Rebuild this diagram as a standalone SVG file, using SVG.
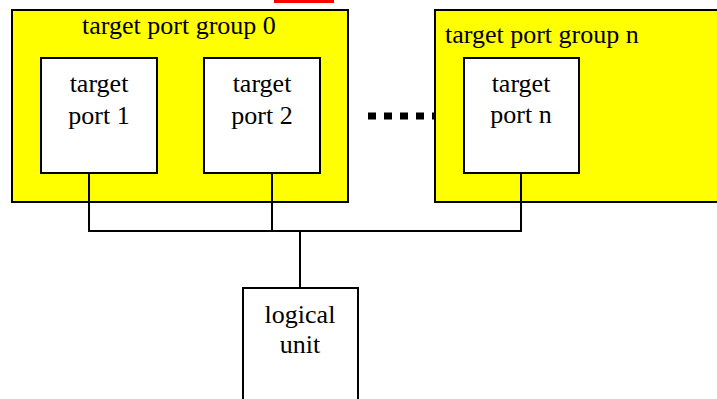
<svg xmlns="http://www.w3.org/2000/svg" width="717" height="399" viewBox="0 0 717 399">
<style>
.grp{fill:#ffff00;stroke:#000;stroke-width:2}
.box{fill:#fff;stroke:#000;stroke-width:2}
text{font-family:"Liberation Serif","Times New Roman",serif;font-size:26px;fill:#000}
.c{text-anchor:middle}
.wire{fill:none;stroke:#000;stroke-width:2}
</style>
<rect x="274" y="0" width="60" height="3" fill="#ff0000"/>
<g id="group0">
<rect class="grp" x="12" y="10" width="336" height="192"/>
<text class="c" x="179" y="34">target port group 0</text>
</g>
<g id="groupn">
<rect class="grp" x="435" y="10" width="290" height="192"/>
<text x="445" y="43">target port group n</text>
</g>
<g id="port1">
<rect class="box" x="41" y="58" width="116" height="115"/>
<text class="c" x="99" y="92">target</text>
<text class="c" x="99" y="124">port 1</text>
</g>
<g id="port2">
<rect class="box" x="204" y="58" width="116" height="115"/>
<text class="c" x="262" y="92">target</text>
<text class="c" x="262" y="124">port 2</text>
</g>
<g id="portn">
<rect class="box" x="464" y="58" width="115" height="115"/>
<text class="c" x="521" y="92">target</text>
<text class="c" x="521" y="123">port n</text>
</g>
<g id="lu">
<rect class="box" x="243" y="288" width="115" height="130"/>
<text class="c" x="300" y="323">logical</text>
<text class="c" x="300" y="353">unit</text>
</g>
<g id="connectors">
<path class="wire" d="M89 173V231H521V173M272 173V231M300 231V288"/>
<line x1="368" y1="116" x2="435" y2="116" stroke="#000" stroke-width="7" stroke-dasharray="8 8"/>
</g>
</svg>
